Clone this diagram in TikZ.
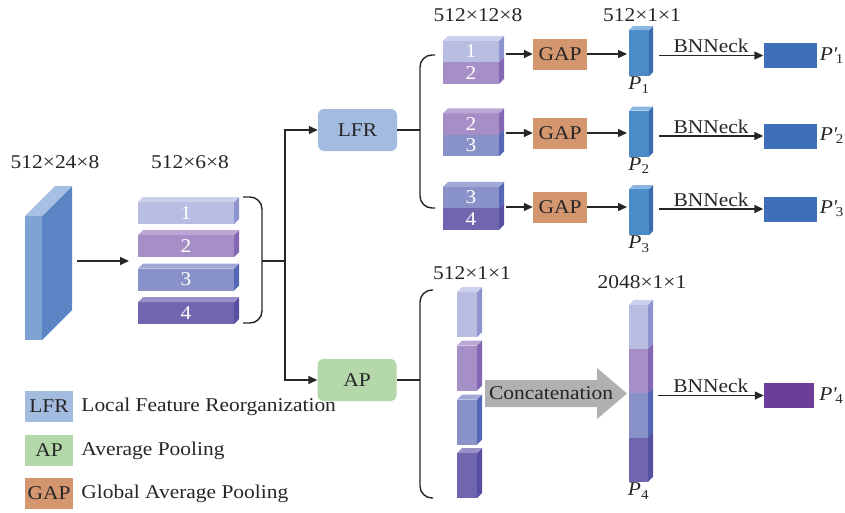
\documentclass[tikz,border=0pt]{standalone}
\usepackage{fontspec}
\setmainfont{Liberation Serif}[FakeStretch=1.1]
\usetikzlibrary{positioning,calc,arrows.meta}

\definecolor{txt}{HTML}{262626}
\definecolor{c1}{HTML}{B9BDE1}\definecolor{c1s}{HTML}{8D93CF}\definecolor{c1t}{HTML}{CDD0EC}
\definecolor{c2}{HTML}{A68FC6}\definecolor{c2s}{HTML}{8467B4}\definecolor{c2t}{HTML}{BBA6D6}
\definecolor{c3}{HTML}{8891C8}\definecolor{c3s}{HTML}{5466B6}\definecolor{c3t}{HTML}{A1A8D8}
\definecolor{c4}{HTML}{7066B0}\definecolor{c4s}{HTML}{5650A0}\definecolor{c4t}{HTML}{9A90C8}
\definecolor{slabf}{HTML}{7FA2D4}\definecolor{slabs}{HTML}{5B84C4}\definecolor{slabt}{HTML}{A6BFE3}
\definecolor{pf}{HTML}{4B8BC8}\definecolor{ps}{HTML}{3A6DB0}\definecolor{pt}{HTML}{8AB6E0}
\definecolor{outb}{HTML}{3F6FB8}
\definecolor{outp}{HTML}{6A3E99}
\definecolor{lfrc}{HTML}{A4BBE0}
\definecolor{apc}{HTML}{B5D8AA}
\definecolor{gapc}{HTML}{D4966F}
\definecolor{catc}{HTML}{B0B0B0}

\tikzset{
  line/.style={line width=1.4pt, draw=txt},
  arr/.style={line width=1.4pt, draw=txt, -{Triangle[length=9pt,width=8pt]}},
  face/.style={inner sep=0pt, outer sep=0pt, text=white},
  lbl/.style={text=txt, inner sep=1pt},
  opbox/.style={inner sep=0pt, minimum width=79pt, minimum height=42pt, rounded corners=6pt},
  gapbox/.style={fill=gapc, inner sep=0pt, minimum width=54pt, minimum height=31pt},
  legbox/.style={inner sep=0pt, minimum width=48pt, minimum height=31pt},
  outbox/.style={inner sep=0pt, minimum width=53pt, minimum height=25pt},
}

% side and top faces of a block: node, depth, colour
\newcommand{\sideface}[3]{\fill[#3] (#1.north east) -- ++(#2,-#2) -- ($(#1.south east)+(#2,-#2)$) -- (#1.south east) -- cycle;}
\newcommand{\topface}[3]{\fill[#3] (#1.north west) -- ++(#2,-#2) -- ($(#1.north east)+(#2,-#2)$) -- (#1.north east) -- cycle;}
% primed output label
\newcommand{\outlabel}[1]{\textit{P}\kern-0.5pt\textit{\textquotesingle}\kern-1pt\textsubscript{#1}}

\begin{document}
\begin{tikzpicture}[x=1pt, y=-1pt, font=\fontsize{19.5}{21}\selectfont, text=txt]
  \useasboundingbox (0,0) rectangle (845,512);

  % input feature map
  \node[face, fill=slabf, minimum width=17pt, minimum height=124pt] (in) at (33.5,278) {};
  \sideface{in}{30}{slabs}
  \topface{in}{30}{slabt}
  \node[lbl] (indim) at (55,162) {512×24×8};

  % horizontal stripes
  \foreach \i/\y in {1/213,2/246,3/279.5,4/313} {
    \node[face, fill=c\i, minimum width=96pt, minimum height=22pt] (s\i) at (186,\y) {\i};
    \sideface{s\i}{5}{c\i s}
    \topface{s\i}{5}{c\i t}
  }
  \node[lbl] (sdim) at (190,162) {512×6×8};

  \coordinate (split) at (262,261);
  \draw[arr] ($(in.east |- split)+(35,0)$) -- ($(s1.west |- split)+(-9,0)$);
  \draw[line, rounded corners=12pt] (243,197) -- (262,197) -- (262,323) -- (243,323);

  \node[opbox, fill=lfrc] (lfr) at (357.5,130) {LFR};
  \node[opbox, fill=apc] (ap) at (357,380) {AP};
  \draw[arr] (split) -- ++(23,0) |- (lfr.west);
  \draw[arr] (split) -- ++(23,0) |- (ap.west);

  % local branch
  \draw[line] (lfr.east) -- ++(23,0);
  \draw[line, rounded corners=12pt] (435,55) -- (420,55) -- (420,208) -- (435,208);
  \node[lbl] (tdim) at (478,15) {512×12×8};
  \node[lbl] (pdim) at (642,15) {512×1×1};

  \foreach \r/\a/\b/\y/\ry/\py/\oy in {1/1/2/51.5/54/53/55.5, 2/2/3/124/133/133.5/136, 3/3/4/197.5/207/212/209} {
    \node[face, fill=c\a, minimum width=56pt, minimum height=21.5pt] (t\r) at (471,\y) {\a};
    \node[face, fill=c\b, minimum width=56pt, minimum height=21.5pt, below=0pt of t\r] (b\r) {\b};
    \sideface{t\r}{5}{c\a s}
    \sideface{b\r}{5}{c\b s}
    \topface{t\r}{5}{c\a t}

    \node[gapbox] (g\r) at (560,\ry) {GAP};
    \draw[arr] ($(t\r.east |- g\r)+(7,0)$) -- (g\r.west);

    \node[face, fill=pf, minimum width=20pt, minimum height=46pt] (p\r) at (639,\py) {};
    \sideface{p\r}{4}{ps}
    \topface{p\r}{4}{pt}
    \node[lbl, below=0pt of p\r] (pl\r) {\textit{P}\textsubscript{\r}};
    \draw[arr] (g\r.east) -- ($(g\r.east -| p\r.west)+(-2,0)$);

    \node[outbox, fill=outb] (o\r) at (790,\oy) {};
    \draw[arr] ($(p\r.east |- o\r)+(10,0)$) -- (o\r.west)
      node[lbl, midway, above=1pt] (bn\r) {BNNeck};
    \node[lbl, inner sep=0pt, right=3pt of o\r] (pp\r) {\outlabel{\r}};
  }

  % global branch
  \draw[line] (ap.east) -- ++(23,0);
  \draw[line, rounded corners=12pt] (433,290) -- (420,290) -- (420,498) -- (433,498);
  \node[lbl] (vdim) at (472,273) {512×1×1};
  \foreach \i/\y in {1/314.5,2/368,3/422,4/475.5} {
    \node[face, fill=c\i, minimum width=20pt, minimum height=45pt] (v\i) at (467,\y) {};
    \sideface{v\i}{5}{c\i s}
    \topface{v\i}{5}{c\i t}
  }

  \fill[catc] (485,380) -- (597,380) -- (597,368) -- (627,393.5) -- (597,419) -- (597,407) -- (485,407) -- cycle;
  \node[lbl] (cat) at (551,393) {Concatenation};

  \node[lbl] (qdim) at (642,282) {2048×1×1};
  \node[face, fill=c1, minimum width=19pt, minimum height=44.25pt] (q1) at (638.5,327.1) {};
  \foreach \i [count=\j from 1] in {2,3,4}
    \node[face, fill=c\i, minimum width=19pt, minimum height=44.25pt, below=0pt of q\j] (q\i) {};
  \foreach \i in {1,2,3,4}
    \sideface{q\i}{5}{c\i s};
  \topface{q1}{5}{c1t}
  \node[lbl, below=0pt of q4] (pl4) {\textit{P}\textsubscript{4}};

  \node[outbox, fill=outp, minimum width=50pt] (o4) at (789,395.5) {};
  \draw[arr] ($(q1.east |- o4)+(10,0)$) -- (o4.west)
    node[lbl, midway, above=1pt] (bn4) {BNNeck};
  \node[lbl, inner sep=0pt, right=5pt of o4] (pp4) {\outlabel{4}};

  % legend
  \node[legbox, fill=lfrc] (klfr) at (49,406.5) {LFR};
  \node[legbox, fill=apc] (kap) at (49,450.5) {AP};
  \node[legbox, fill=gapc] (kgap) at (49,493.5) {GAP};
  \node[lbl, right=7pt of klfr] (tlfr) {Local Feature Reorganization};
  \node[lbl, right=7pt of kap] (tap) {Average Pooling};
  \node[lbl, right=7pt of kgap] (tgap) {Global Average Pooling};
\end{tikzpicture}
\end{document}
